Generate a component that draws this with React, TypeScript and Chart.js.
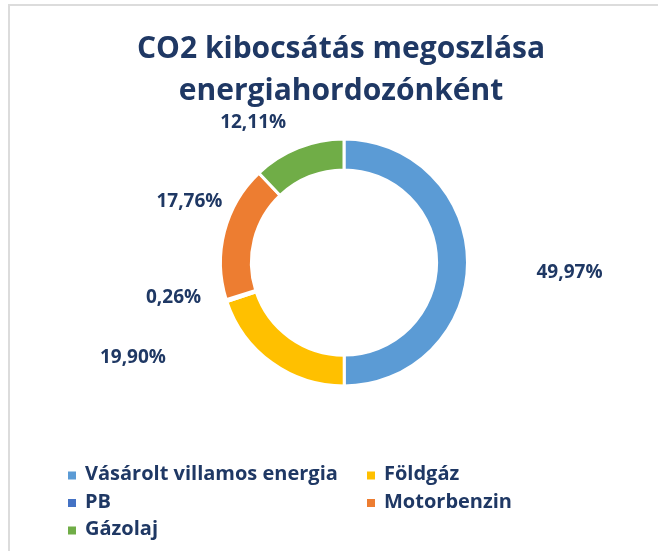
import React, { useEffect, useRef } from "react";
import { Chart, registerables } from "chart.js";

Chart.register(...registerables);

// ---- data ----
const titleLines = ["CO2 kibocsátás megoszlása", "energiahordozónként"];
const categories = ["Vásárolt villamos energia", "Földgáz", "PB", "Motorbenzin", "Gázolaj"];
const shares = [49.97, 19.9, 0.26, 17.76, 12.11];
const sliceColors = ["#5B9BD5", "#FFC000", "#4472C4", "#ED7D31", "#70AD47"];

// ---- styling ----
const TEXT_COLOR = "#1F3864";
const FONT = "'Open Sans', Lato, sans-serif";

const fmtPct = (v: number) => v.toFixed(2).replace(".", ",") + "%";

const decorPlugin = {
  id: "decor",
  afterDraw(chart: any, _args: any, opts: any) {
    const ctx = chart.ctx as CanvasRenderingContext2D;
    ctx.save();
    ctx.fillStyle = opts.color;

    // title
    ctx.font = `bold ${opts.titleSize}px ${FONT}`;
    ctx.textAlign = "center";
    ctx.textBaseline = "alphabetic";
    (opts.title as string[]).forEach((line, i) => {
      ctx.fillText(line, opts.titleX, opts.titleBaseline + i * opts.titleLineHeight);
    });

    // data labels
    const meta = chart.getDatasetMeta(0);
    const values = chart.data.datasets[0].data as number[];
    ctx.font = `bold ${opts.labelSize}px ${FONT}`;
    ctx.textBaseline = "middle";
    meta.data.forEach((arc: any, i: number) => {
      const p = arc.getProps(["x", "y", "startAngle", "endAngle", "outerRadius"], true);
      const mid = (p.startAngle + p.endAngle) / 2;
      const off = opts.labelOffsets[i] || [0, 0];
      const lx = p.x + Math.cos(mid) * p.outerRadius + off[0];
      const ly = p.y + Math.sin(mid) * p.outerRadius + off[1];
      ctx.fillText(fmtPct(values[i]), lx, ly);
    });

    // legend (two-column grid)
    const lg = opts.legend;
    const labels = chart.data.labels as string[];
    const bg = chart.data.datasets[0].backgroundColor as string[];
    ctx.font = `bold ${lg.size}px ${FONT}`;
    ctx.textAlign = "left";
    ctx.textBaseline = "middle";
    labels.forEach((label, i) => {
      const col = i % 2;
      const row = Math.floor(i / 2);
      const x = lg.cols[col];
      const y = lg.rows[row];
      ctx.fillStyle = bg[i];
      ctx.fillRect(x, y - lg.box / 2, lg.box, lg.box);
      ctx.fillStyle = opts.color;
      ctx.fillText(label, x + lg.box + lg.gap, y - 1);
    });

    ctx.restore();
  },
};

export default function App() {
  const canvasRef = useRef<HTMLCanvasElement | null>(null);

  useEffect(() => {
    document.body.style.margin = "0";
    document.body.style.overflow = "hidden";
    const canvas = canvasRef.current;
    if (!canvas) return;
    const chart = new Chart(canvas, {
      type: "doughnut",
      data: {
        labels: categories,
        datasets: [
          {
            data: shares,
            backgroundColor: sliceColors,
            borderColor: "#FFFFFF",
            borderWidth: 3,
          },
        ],
      },
      options: {
        animation: false,
        responsive: false,
        devicePixelRatio: 1,
        cutout: "75%",
        layout: { padding: { left: 219, right: 189, top: 137.5, bottom: 163.5 } },
        plugins: {
          legend: { display: false },
          title: { display: false },
          tooltip: { enabled: false },
          decor: {
            color: TEXT_COLOR,
            title: titleLines,
            titleSize: 30,
            titleX: 341,
            titleBaseline: 58,
            titleLineHeight: 42,
            labelSize: 19,
            labelOffsets: [
              [102, 10],
              [-139, -5],
              [-53, -3],
              [-35, -30],
              [-45, -25],
            ],
            legend: { size: 20, box: 8, gap: 9, cols: [68, 367], rows: [475.5, 503, 530.5] },
          },
        } as any,
      },
      plugins: [decorPlugin as any],
    });
    let alive = true;
    if ((document as any).fonts && (document as any).fonts.load) {
      Promise.all([
        (document as any).fonts.load("bold 30px 'Open Sans'"),
        (document as any).fonts.load("bold 20px 'Open Sans'"),
      ]).then(() => {
        if (alive) chart.update();
      });
    }
    return () => {
      alive = false;
      chart.destroy();
    };
  }, []);

  return (
    <div style={{ position: "relative", width: 658, height: 551, overflow: "hidden", background: "#FFFFFF" }}>
      <div
        style={{
          position: "absolute",
          left: 8,
          top: 4,
          width: 720,
          height: 620,
          border: "2px solid #DCDCDC",
          boxSizing: "border-box",
        }}
      />
      <canvas ref={canvasRef} width={658} height={551} style={{ position: "absolute", left: 0, top: 0 }} />
    </div>
  );
}
